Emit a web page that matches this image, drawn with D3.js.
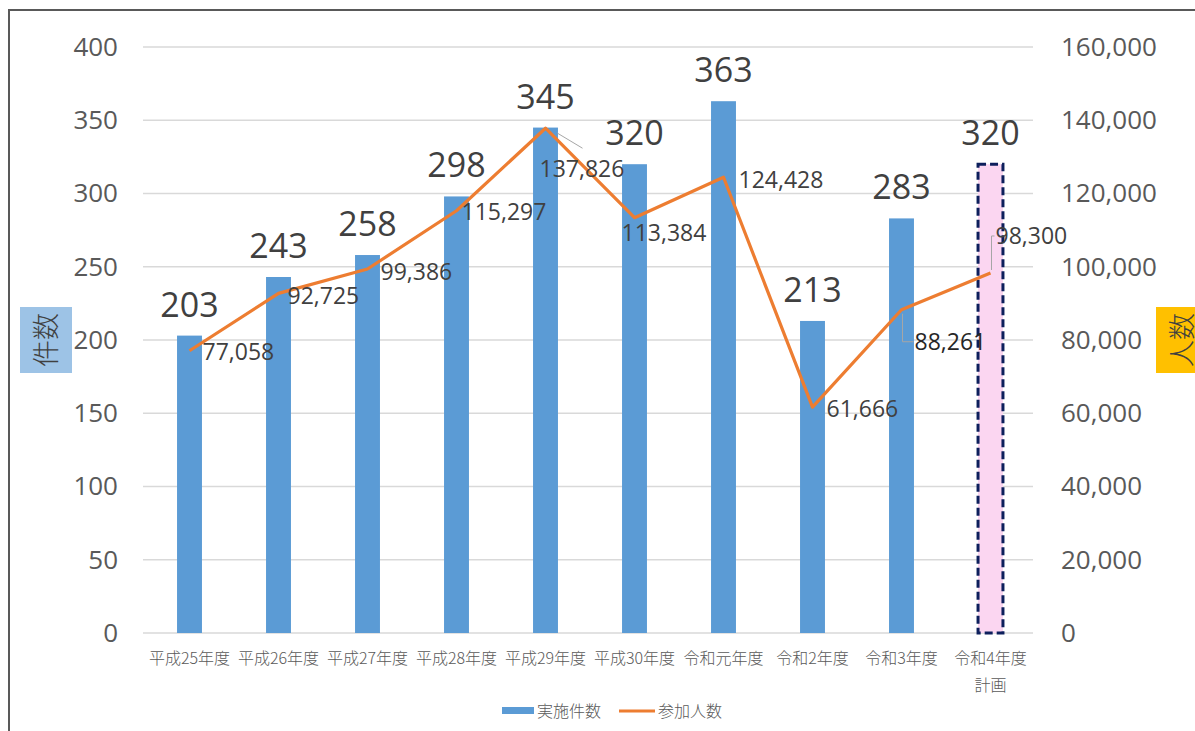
<!DOCTYPE html>
<html>
<head>
<meta charset="utf-8">
<script src="https://cdn.jsdelivr.net/npm/d3@7"></script>
<style>
  body { margin: 0; background: #fff; }
  svg { display: block; }
</style>
</head>
<body>
<div id="chart"></div>
<script>
// データ（件数・参加人数）
const categories = ["平成25年度", "平成26年度", "平成27年度", "平成28年度", "平成29年度",
                    "平成30年度", "令和元年度", "令和2年度", "令和3年度", "令和4年度"];
const subLabels = ["", "", "", "", "", "", "", "", "", "計画"];
const counts = [203, 243, 258, 298, 345, 320, 363, 213, 283, 320];
const participants = [77058, 92725, 99386, 115297, 137826, 113384, 124428, 61666, 88261, 98300];
const isPlan = [false, false, false, false, false, false, false, false, false, true];
const leftTicks = [0, 50, 100, 150, 200, 250, 300, 350, 400];
const rightTicks = [0, 20000, 40000, 60000, 80000, 100000, 120000, 140000, 160000];

// ラベル位置の調整（点からのずれ）と引き出し線
const labelOffset = [[13, 1], [9, 2], [13, 3], [5, 1], [-6, 41], [-13, 15], [15, 2], [14, 2], [13, 32], [5, -37]];
const hasLeader = [false, false, false, false, true, false, false, false, true, true];

const W = 1195, H = 731;
const plot = { left: 143, right: 1033, top: 47, bottom: 633 };
const numFont = "'Open Sans', sans-serif";
const jpFont = "'Noto Sans CJK JP', sans-serif";

const svg = d3.select("#chart").append("svg")
  .attr("width", W).attr("height", H);

// 外枠
svg.append("rect")
  .attr("x", 9).attr("y", 10)
  .attr("width", W + 20).attr("height", H + 20)
  .attr("fill", "#fff")
  .attr("stroke", "#595959").attr("stroke-width", 2);

const x = d3.scaleBand()
  .domain(categories)
  .range([plot.left + 2, plot.right + 2])
  .paddingInner(0.72)
  .paddingOuter(0.36);

const yL = d3.scaleLinear().domain([0, 400]).range([plot.bottom, plot.top]);
const yR = d3.scaleLinear().domain([0, 160000]).range([plot.bottom, plot.top]);

// グリッド線
svg.append("g")
  .selectAll("line")
  .data(leftTicks)
  .enter().append("line")
  .attr("x1", plot.left).attr("x2", plot.right)
  .attr("y1", d => yL(d)).attr("y2", d => yL(d))
  .attr("stroke", "#d9d9d9").attr("stroke-width", 1.3);

// 左軸
const gL = svg.append("g")
  .attr("transform", `translate(${plot.left - 25},0)`)
  .call(d3.axisLeft(yL).tickValues(leftTicks).tickSize(0).tickPadding(0));
gL.select(".domain").remove();
gL.selectAll("text")
  .attr("fill", "#595959")
  .style("font-family", numFont)
  .style("font-size", "26px");

// 右軸
const gR = svg.append("g")
  .attr("transform", `translate(${plot.right + 28},0)`)
  .call(d3.axisRight(yR).tickValues(rightTicks).tickSize(0).tickPadding(0)
    .tickFormat(d3.format(",")));
gR.select(".domain").remove();
gR.selectAll("text")
  .attr("fill", "#595959")
  .style("font-family", numFont)
  .style("font-size", "26px");

// 棒グラフ
svg.append("g")
  .selectAll("rect")
  .data(counts)
  .enter().append("rect")
  .attr("x", (d, i) => x(categories[i]))
  .attr("y", d => yL(d))
  .attr("width", x.bandwidth())
  .attr("height", d => plot.bottom - yL(d))
  .attr("fill", (d, i) => isPlan[i] ? "#fbd6f1" : "#5b9bd5")
  .attr("stroke", (d, i) => isPlan[i] ? "#0d1f5c" : "none")
  .attr("stroke-width", (d, i) => isPlan[i] ? 3 : 0)
  .attr("stroke-dasharray", (d, i) => isPlan[i] ? "8,4" : null);

// 棒のラベル
svg.append("g")
  .selectAll("text")
  .data(counts)
  .enter().append("text")
  .attr("x", (d, i) => x(categories[i]) + x.bandwidth() / 2)
  .attr("y", d => yL(d) - 19)
  .attr("text-anchor", "middle")
  .attr("fill", "#404040")
  .style("font-family", numFont)
  .style("font-size", "34px")
  .text(d => d);

// 折れ線
const cx = i => x(categories[i]) + x.bandwidth() / 2;
const line = d3.line()
  .x((d, i) => cx(i))
  .y(d => yR(d));

svg.append("path")
  .datum(participants)
  .attr("d", line)
  .attr("fill", "none")
  .attr("stroke", "#ed7d31")
  .attr("stroke-width", 3.2)
  .attr("stroke-linejoin", "round");

// 引き出し線
participants.forEach((d, i) => {
  if (!hasLeader[i]) return;
  const px = cx(i), py = yR(d);
  const lx = px + labelOffset[i][0], ly = py + labelOffset[i][1];
  let pts;
  if (i === 4) pts = [[px + 12, py + 5], [px + 37, py + 20]];
  else if (labelOffset[i][1] > 0) pts = [[px + 1, py + 4], [px + 1, ly], [lx - 1, ly]];
  else pts = [[px + 1, py - 3], [lx - 4, ly + 5], [lx - 4, ly], [lx - 1, ly]];
  svg.append("path")
    .attr("d", d3.line()(pts))
    .attr("fill", "none")
    .attr("stroke", "#a6a6a6")
    .attr("stroke-width", 1);
});

// 折れ線のラベル
svg.append("g")
  .selectAll("text")
  .data(participants)
  .enter().append("text")
  .attr("x", (d, i) => cx(i) + labelOffset[i][0])
  .attr("y", (d, i) => yR(d) + labelOffset[i][1])
  .attr("dy", "0.36em")
  .attr("fill", (d, i) => i === 8 ? "#262626" : "#404040")
  .style("font-family", numFont)
  .style("font-size", "23px")
  .text(d => d3.format(",")(d));

// X軸ラベル
const gX = svg.append("g");
categories.forEach((c, i) => {
  gX.append("text")
    .attr("x", cx(i))
    .attr("y", 664)
    .attr("text-anchor", "middle")
    .attr("fill", "#595959")
    .style("font-family", jpFont)
    .style("font-size", "16px")
    .style("font-weight", 300)
    .text(c);
  if (subLabels[i]) {
    gX.append("text")
      .attr("x", cx(i))
      .attr("y", 691)
      .attr("text-anchor", "middle")
      .attr("fill", "#595959")
      .style("font-family", jpFont)
      .style("font-size", "16px")
      .style("font-weight", 300)
      .text(subLabels[i]);
  }
});

// 軸タイトル
function axisTitle(bx, by, bw, bh, fill, label) {
  svg.append("rect")
    .attr("x", bx).attr("y", by).attr("width", bw).attr("height", bh)
    .attr("fill", fill);
  svg.append("text")
    .attr("transform", `translate(${bx + bw / 2},${by + bh / 2}) rotate(-90)`)
    .attr("text-anchor", "middle")
    .attr("dy", "0.36em")
    .attr("fill", "#404040")
    .style("font-family", jpFont)
    .style("font-size", "27px")
    .style("font-weight", 300)
    .text(label);
}
axisTitle(20, 307, 52, 66, "#9dc3e6", "件数");
axisTitle(1156, 307, 52, 66, "#ffc000", "人数");

// 凡例
const lg = svg.append("g");
lg.append("rect")
  .attr("x", 502).attr("y", 707).attr("width", 32).attr("height", 7)
  .attr("fill", "#5b9bd5");
lg.append("text")
  .attr("x", 537).attr("y", 711).attr("dy", "0.35em")
  .attr("fill", "#595959")
  .style("font-family", jpFont).style("font-size", "16px").style("font-weight", 300)
  .text("実施件数");
lg.append("line")
  .attr("x1", 619).attr("x2", 655).attr("y1", 711).attr("y2", 711)
  .attr("stroke", "#ed7d31").attr("stroke-width", 3.2);
lg.append("text")
  .attr("x", 658).attr("y", 711).attr("dy", "0.35em")
  .attr("fill", "#595959")
  .style("font-family", jpFont).style("font-size", "16px").style("font-weight", 300)
  .text("参加人数");
</script>
</body>
</html>
